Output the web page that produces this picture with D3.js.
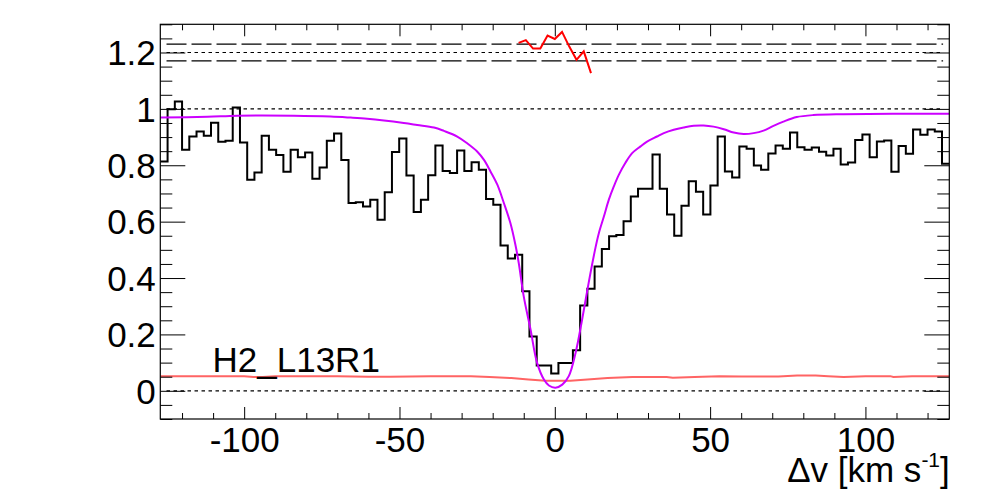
<!DOCTYPE html>
<html>
<head>
<meta charset="utf-8">
<script src="https://cdn.jsdelivr.net/npm/d3@7"></script>
<style>
  html, body { margin: 0; padding: 0; background: #fff; }
  svg { display: block; }
  text { font-family: "Liberation Sans", Arial, Helvetica, sans-serif; }
</style>
</head>
<body>
<svg id="chart" width="998" height="499"></svg>
<script>
// ---------------- data ----------------
const binWidth = 2.33;          // km/s per spectral pixel
const firstBin = -54;           // index of the first bin (center = index*binWidth)
const flux = [
  0.813, 0.999, 1.026, 0.855, 0.902, 0.920, 0.905, 0.951, 0.883, 0.887,
  1.005, 0.881, 0.749, 0.774, 0.905, 0.855, 0.836, 0.777, 0.855, 0.828,
  0.845, 0.752, 0.792, 0.887, 0.913, 0.819, 0.666, 0.669, 0.654, 0.678,
  0.607, 0.704, 0.847, 0.895, 0.764, 0.634, 0.678, 0.765, 0.870, 0.780,
  0.773, 0.852, 0.780, 0.811, 0.784, 0.680, 0.660, 0.515, 0.469, 0.483,
  0.353, 0.193, 0.090, 0.090, 0.061, 0.099, 0.099, 0.144, 0.303, 0.362,
  0.441, 0.503, 0.548, 0.553, 0.601, 0.689, 0.717, 0.717, 0.838, 0.717,
  0.625, 0.550, 0.656, 0.743, 0.706, 0.625, 0.728, 0.902, 0.778, 0.757,
  0.867, 0.859, 0.799, 0.784, 0.842, 0.870, 0.859, 0.916, 0.864, 0.855,
  0.863, 0.848, 0.835, 0.859, 0.803, 0.810, 0.890, 0.909, 0.828, 0.884,
  0.888, 0.777, 0.868, 0.841, 0.927, 0.908, 0.927, 0.920, 0.805
];

const modelV = [-127, -111.8, -102.2, -84, -72.2, -65.7, -60.4, -55, -48.6, -44.3,
  -38.9, -35.7, -31.4, -28.2, -25, -22.8, -20.7, -18.5, -16.4, -14.3,
  -12.7, -11.6, -10, -7.8, -5.7, -3.5, -1.9, 0.2, 2.4, 4.5,
  6.7, 8.8, 10.9, 13.1, 14.2, 15.8, 17.4, 19.0, 20.6, 22.7,
  24.9, 27.6, 29.7, 32.9, 35.1, 38.3, 41.5, 44.7, 47.9, 51.1,
  54.4, 57.6, 60.8, 64.0, 67.2, 70.4, 73.6, 77.9, 83.2, 92.9, 127];
const modelF = [0.969, 0.972, 0.976, 0.976, 0.973, 0.969, 0.965, 0.959, 0.950, 0.943,
  0.934, 0.922, 0.902, 0.878, 0.849, 0.819, 0.778, 0.731, 0.666, 0.595,
  0.519, 0.453, 0.335, 0.217, 0.099, 0.040, 0.019, 0.011, 0.022, 0.052,
  0.135, 0.253, 0.383, 0.508, 0.560, 0.618, 0.678, 0.725, 0.766, 0.808,
  0.843, 0.867, 0.884, 0.902, 0.914, 0.926, 0.934, 0.940, 0.941, 0.937,
  0.928, 0.916, 0.911, 0.914, 0.923, 0.940, 0.955, 0.971, 0.978, 0.981, 0.983];

const residV = [-11.65, -9.32, -6.99, -4.66, -2.33, 0, 2.33, 4.66, 6.99, 9.32, 11.65];
const residF = [1.234, 1.244, 1.214, 1.214, 1.260, 1.248, 1.273, 1.221, 1.174, 1.204, 1.127];

const errV = [-127, -100, -97, -94, -90, -70, -60, -53, -40, -27, -21, -14, -8.5, -3, 0, 5,
  10.5, 17, 25, 36, 38, 45, 53, 60, 72, 78, 84, 88, 93, 100, 108, 109, 115, 127];
const errF = [0.052, 0.052, 0.049, 0.049, 0.052, 0.052, 0.050, 0.050, 0.052, 0.052, 0.049, 0.045, 0.040, 0.036, 0.036, 0.036,
  0.040, 0.045, 0.049, 0.049, 0.046, 0.049, 0.052, 0.051, 0.051, 0.054, 0.054, 0.052, 0.049, 0.052, 0.052, 0.049, 0.052, 0.052];

const xMajor = [-100, -50, 0, 50, 100];
const xMinor = [-120, -110, -90, -80, -70, -60, -40, -30, -20, -10, 10, 20, 30, 40, 60, 70, 80, 90, 110, 120];
const yMajor = [0, 0.2, 0.4, 0.6, 0.8, 1, 1.2];
const yMinor = [-0.1, -0.05, 0.05, 0.1, 0.15, 0.25, 0.3, 0.35, 0.45, 0.5, 0.55, 0.65, 0.7, 0.75,
  0.85, 0.9, 0.95, 1.05, 1.1, 1.15, 1.25, 1.3];
const dashedLevels = [1.23, 1.17];
const dottedLevels = [1.2, 1.0, 0.0];
const refRange = [-125, 125];
const lineLabel = "H2_L13R1";

// ---------------- drawing ----------------
const svg = d3.select("#chart");
const F = {l: 160.3, r: 949.3, t: 24.3, b: 419};
const x = d3.scaleLinear().domain([-127, 127]).range([F.l, F.r]);
const y = d3.scaleLinear().domain([-0.1, 1.3]).range([F.b, F.t]);
const FS = 35;

svg.append("defs").append("clipPath").attr("id", "clip")
  .append("rect").attr("x", F.l).attr("y", F.t).attr("width", F.r - F.l).attr("height", F.b - F.t);

const plot = svg.append("g").attr("clip-path", "url(#clip)");

// reference lines
dashedLevels.forEach(v => {
  plot.append("line").attr("x1", x(refRange[0])).attr("x2", x(refRange[1]))
    .attr("y1", y(v)).attr("y2", y(v))
    .attr("stroke", "#000").attr("stroke-width", 1.3).attr("stroke-dasharray", "20,5");
});
dottedLevels.forEach(v => {
  plot.append("line").attr("x1", x(refRange[0])).attr("x2", x(refRange[1]))
    .attr("y1", y(v)).attr("y2", y(v))
    .attr("stroke", "#000").attr("stroke-width", 1.2).attr("stroke-dasharray", "3.5,3.5");
});

// histogram (step)
const histPts = [];
flux.forEach((f, i) => {
  const c = (firstBin + i) * binWidth;
  histPts.push([c - binWidth / 2, f], [c + binWidth / 2, f]);
});
plot.append("path").datum(histPts)
  .attr("fill", "none").attr("stroke", "#000").attr("stroke-width", 2)
  .attr("d", d3.line().x(d => x(d[0])).y(d => y(d[1])));

// error spectrum
plot.append("path").datum(errV.map((v, i) => [v, errF[i]]))
  .attr("fill", "none").attr("stroke", "#ff6464").attr("stroke-width", 2)
  .attr("d", d3.line().x(d => x(d[0])).y(d => y(d[1])));

// model
plot.append("path").datum(modelV.map((v, i) => [v, modelF[i]]))
  .attr("fill", "none").attr("stroke", "#cc00ff").attr("stroke-width", 2)
  .attr("d", d3.line().curve(d3.curveCatmullRom.alpha(0.5)).x(d => x(d[0])).y(d => y(d[1])));

// residuals
plot.append("path").datum(residV.map((v, i) => [v, residF[i]]))
  .attr("fill", "none").attr("stroke", "#ff0000").attr("stroke-width", 2)
  .attr("d", d3.line().x(d => x(d[0])).y(d => y(d[1])));

// axes
function styleAxis(g) {
  g.select(".domain").remove();
  g.selectAll(".tick line").attr("stroke", "#000").attr("stroke-width", 1);
  g.selectAll("text").attr("font-size", FS).attr("fill", "#000")
    .style("font-family", '"Liberation Sans", Arial, Helvetica, sans-serif');
}
svg.append("g").attr("transform", `translate(0,${F.b})`)
  .call(d3.axisBottom(x).tickValues(xMinor).tickSize(-6).tickSizeOuter(0).tickFormat(""))
  .call(styleAxis);
svg.append("g").attr("transform", `translate(0,${F.b})`)
  .call(d3.axisBottom(x).tickValues(xMajor).tickSize(-12).tickSizeOuter(0).tickPadding(8).tickFormat(d => String(d)))
  .call(styleAxis);
svg.append("g").attr("transform", `translate(0,${F.t})`)
  .call(d3.axisTop(x).tickValues(xMinor).tickSize(-6).tickSizeOuter(0).tickFormat(""))
  .call(styleAxis);
svg.append("g").attr("transform", `translate(0,${F.t})`)
  .call(d3.axisTop(x).tickValues(xMajor).tickSize(-12).tickSizeOuter(0).tickFormat(""))
  .call(styleAxis);

svg.append("g").attr("transform", `translate(${F.l},0)`)
  .call(d3.axisLeft(y).tickValues(yMinor).tickSize(-12).tickSizeOuter(0).tickFormat(""))
  .call(styleAxis);
const yl = svg.append("g").attr("transform", `translate(${F.l},0)`)
  .call(d3.axisLeft(y).tickValues(yMajor).tickSize(-25).tickSizeOuter(0).tickPadding(4.5).tickFormat(d => String(d)))
  .call(styleAxis);
yl.selectAll("text").attr("dy", "0.35em");
svg.append("g").attr("transform", `translate(${F.r},0)`)
  .call(d3.axisRight(y).tickValues(yMinor).tickSize(-12).tickSizeOuter(0).tickFormat(""))
  .call(styleAxis);
svg.append("g").attr("transform", `translate(${F.r},0)`)
  .call(d3.axisRight(y).tickValues(yMajor).tickSize(-25).tickSizeOuter(0).tickFormat(""))
  .call(styleAxis);

// frame
svg.append("rect").attr("x", F.l).attr("y", F.t).attr("width", F.r - F.l).attr("height", F.b - F.t)
  .attr("fill", "none").attr("stroke", "#000").attr("stroke-width", 1.2);

// axis title
const title = svg.append("text").attr("x", F.r + 0.5).attr("y", 481.7)
  .attr("text-anchor", "end").attr("font-size", FS).attr("fill", "#000");
title.append("tspan").text("Δv [km s");
title.append("tspan").attr("font-size", 21).attr("dy", -15).text("-1");
title.append("tspan").attr("dy", 15).text("]");

// transition label
svg.append("text").attr("x", 212.5).attr("y", 371.7)
  .attr("font-size", FS).attr("fill", "#000").text(lineLabel);
</script>
</body>
</html>
